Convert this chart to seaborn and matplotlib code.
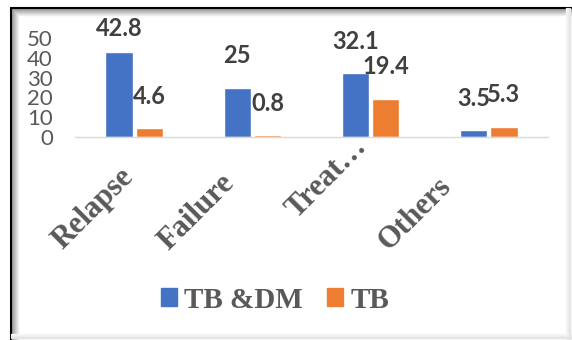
import seaborn as sns
import pandas as pd
import matplotlib.pyplot as plt
from matplotlib.lines import Line2D

# chart data
categories = ["Relapse", "Failure", "Treat…", "Others"]
tb_dm = [42.8, 25, 32.1, 3.5]
tb = [4.6, 0.8, 19.4, 5.3]
series_names = ["TB &DM", "TB"]
colors = ["#4472C4", "#ED7D31"]

# where Excel put each rotated category label (pixel offset from the tick)
label_offsets = [(-5, -36), (-22, -42), (-8, -5), (-42, -45)]

df = pd.DataFrame({
    "category": categories * 2,
    "value": tb_dm + tb,
    "group": [series_names[0]] * len(categories) + [series_names[1]] * len(categories),
})

sns.set_style("white")
plt.rcParams["font.family"] = ["Lato", "DejaVu Sans"]

W, H = 572, 340
fig = plt.figure(figsize=(W / 100, H / 100), dpi=100)
ax = fig.add_axes([75 / W, 1 - 137 / H, (548 - 75) / W, (137 - 38) / H])

sns.barplot(data=df, x="category", y="value", hue="group", palette=colors,
            width=0.51, gap=0.1, saturation=1, ax=ax)

ax.set_ylim(0, 50)
ax.set_xlim(-0.5, 3.5)
ax.set_yticks([0, 10, 20, 30, 40, 50])
ax.set_xlabel("")
ax.set_ylabel("")
for s in ["top", "right", "left"]:
    ax.spines[s].set_visible(False)
ax.spines["bottom"].set_color("#d9d9d9")
ax.spines["bottom"].set_linewidth(1)
ax.tick_params(axis="y", length=0, pad=16, labelsize=16, labelcolor="#595959")
ax.tick_params(axis="x", length=0, labelbottom=False)

# rotated category labels
for i, cat in enumerate(categories):
    ax.annotate(cat, xy=(i, 0), xycoords=("data", "axes fraction"),
                xytext=label_offsets[i], textcoords="offset pixels",
                rotation=45, ha="right", va="center", rotation_mode="anchor",
                family="Liberation Serif", fontweight="bold", fontsize=22,
                color="#595959", annotation_clip=False)

# data labels (Excel pushes the tallest one down inside the plot area)
for cont in ax.containers:
    for bar in cont:
        v = bar.get_height()
        ax.text(bar.get_x() + bar.get_width() / 2, min(v + 10.2, 49), f"{v:g}",
                ha="center", va="bottom", fontsize=17, fontweight="bold",
                color="#404040", clip_on=False)

ax.get_legend().remove()
handles = [plt.Rectangle((0, 0), 1, 1, color=c) for c in colors]
fig.legend(handles, series_names, loc="center", bbox_to_anchor=(275 / W, 1 - 300 / H),
           ncol=2, frameon=False, handlelength=0.55, handleheight=0.55,
           handletextpad=0.25, columnspacing=0.85,
           prop={"family": "Liberation Serif", "weight": "bold", "size": 21},
           labelcolor="#595959")

# picture frame with inner shadow
def px_line(x0, y0, x1, y1, color, lw=1.0):
    fig.add_artist(Line2D([x0 / W, x1 / W], [1 - y0 / H, 1 - y1 / H],
                          transform=fig.transFigure, color=color, lw=lw))

for i in range(8):
    g = str(0.55 + i * 0.055)
    px_line(11 + i, 8 + i, W, 8 + i, g)
    px_line(11 + i, 8 + i, 11 + i, H, g)
px_line(11, 8, W, 8, "black", 1.5)
px_line(11, 8, 11, H, "black", 1.5)
for i in range(5):
    g = str(0.97 - i * 0.02)
    px_line(W - 6 + i, 8, W - 6 + i, H, g)
    px_line(11, H - 6 + i, W, H - 6 + i, g)

fig.savefig("out.png", dpi=100)
